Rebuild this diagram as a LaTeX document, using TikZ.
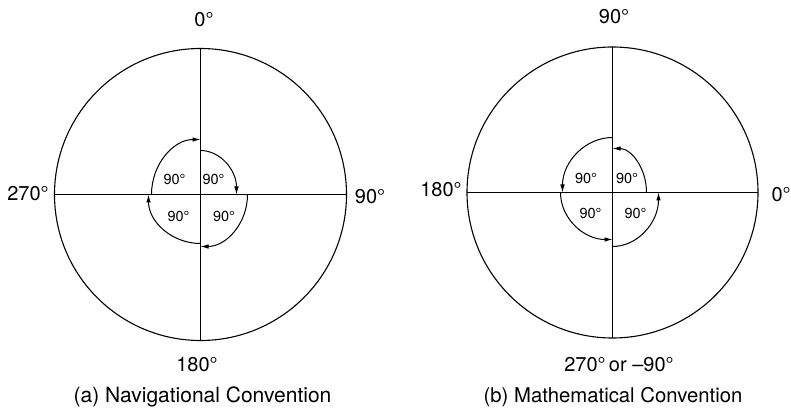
\documentclass[tikz,border=0pt]{standalone}
\usepackage{fontspec}
\setmainfont{TeX Gyre Heros}
\usetikzlibrary{arrows.meta}

\begin{document}
\begin{tikzpicture}[x=1pt,y=1pt,
    dial/.style={line width=1.1pt},
    turn/.style={line width=1pt,-{Latex[length=8pt,width=4.6pt]}},
    bearing/.style={font=\fontsize{20}{24}\selectfont},
    quarter/.style={font=\fontsize{14.5}{17}\selectfont}]
  \useasboundingbox (0,0) rectangle (791,407);

  % --- (a) the navigational dial ---
  \begin{scope}[shift={(200.5,212.5)}]
    \draw[dial] (0,0) circle[radius=146];
    \draw[dial] (-146,0) -- (146,0);
    \draw[dial] (0,-146) -- (0,146);
    % quarter turns, clockwise from north
    \draw[turn] (0,44)   arc[start angle=90,  end angle=0,    x radius=36, y radius=44];
    \draw[turn] (47,0)   arc[start angle=0,   end angle=-90,  x radius=47, y radius=52];
    \draw[turn] (0,-49)  arc[start angle=-90, end angle=-180, x radius=52, y radius=49];
    \draw[turn] (-49,0)  arc[start angle=180, end angle=90,   x radius=49, y radius=55];
    \node[quarter] (navNE) at ( 13, 15) {90°};
    \node[quarter] (navNW) at (-26, 15) {90°};
    \node[quarter] (navSW) at (-22,-22) {90°};
    \node[quarter] (navSE) at ( 23.5,-22) {90°};
  \end{scope}

  % --- (b) the mathematical dial ---
  \begin{scope}[shift={(612.5,214.5)}]
    \draw[dial] (0,0) circle[radius=145.5];
    \draw[dial] (-145.5,0) -- (145.5,0);
    \draw[dial] (0,-145.5) -- (0,145.5);
    % quarter turns, counter-clockwise from east
    \draw[turn] (34,0)   arc[start angle=0,   end angle=90,  x radius=34, y radius=44];
    \draw[turn] (0,55)   arc[start angle=90,  end angle=180, x radius=50, y radius=55];
    \draw[turn] (-52,0)  arc[start angle=180, end angle=270, x radius=52, y radius=47];
    \draw[turn] (0,-54)  arc[start angle=270, end angle=360, x radius=46, y radius=54];
    \node[quarter] (mathNE) at ( 14.5, 14.5) {90°};
    \node[quarter] (mathNW) at (-26.5, 14.5) {90°};
    \node[quarter] (mathSW) at (-22,-21) {90°};
    \node[quarter] (mathSE) at ( 23,-21) {90°};
  \end{scope}

  % --- lettering ---
  \node[bearing] (navN)  at (204,387) {0°};
  \node[bearing] (navW)  at ( 28,213) {270°};
  \node[bearing] (navE)  at (370,210) {90°};
  \node[bearing] (navS)  at (197, 42) {180°};
  \node[bearing,font=\fontsize{21}{25}\selectfont,anchor=base] (navCap) at (202.5,5) {(a) Navigational Convention};

  \node[bearing] (mathN) at (614,390) {90°};
  \node[bearing] (mathW) at (441,217) {180°};
  \node[bearing,anchor=west] (mathE) at (768,212) {0°};
  \node[bearing] (mathS) at (619, 42) {270°\,or –90°};
  \node[bearing,font=\fontsize{20.3}{24}\selectfont,anchor=base] (mathCap) at (613,5) {(b) Mathematical Convention};
\end{tikzpicture}
\end{document}
